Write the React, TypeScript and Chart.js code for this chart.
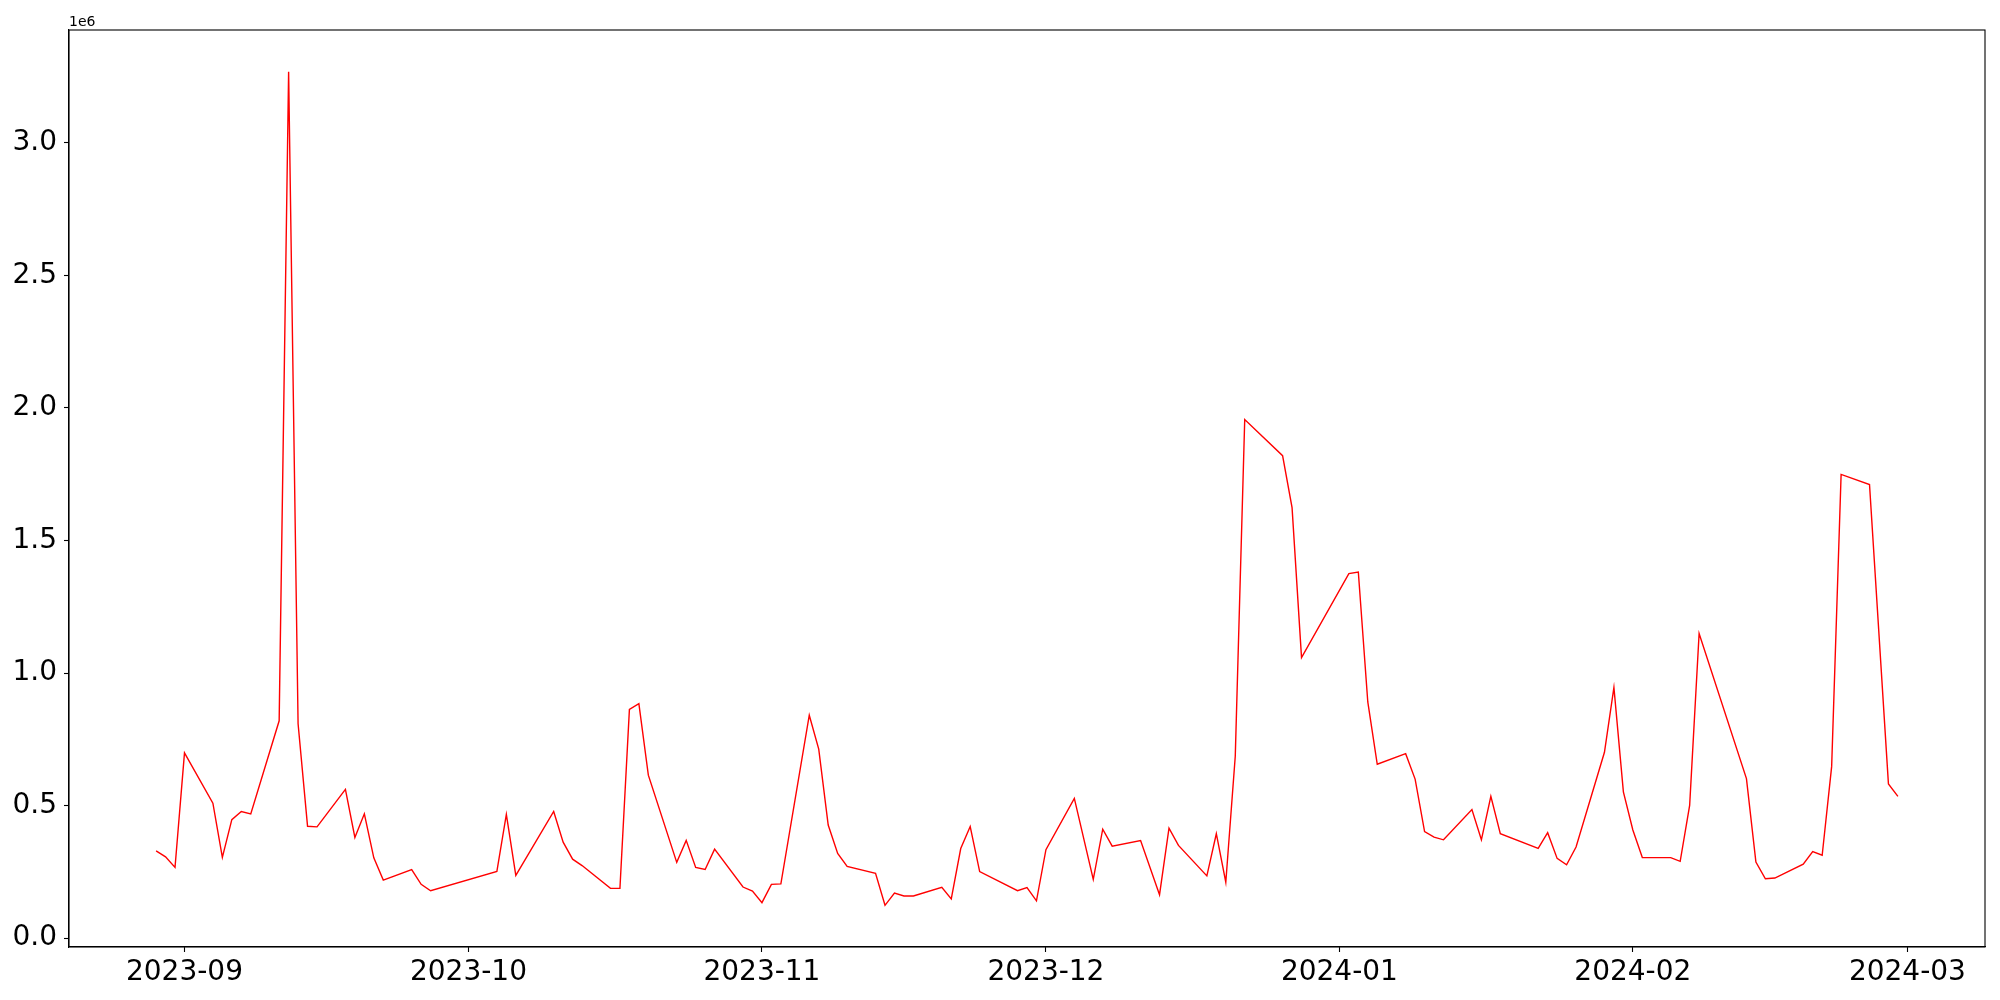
import React, { useEffect, useRef } from "react";
import { Chart, registerables } from "chart.js";

Chart.register(...registerables);

const dates: string[] = [
  "2023-08-29", "2023-08-30", "2023-08-31", "2023-09-01", "2023-09-04", "2023-09-05", "2023-09-06", "2023-09-07", "2023-09-08",
  "2023-09-11", "2023-09-12", "2023-09-13", "2023-09-14", "2023-09-15", "2023-09-18", "2023-09-19", "2023-09-20", "2023-09-21",
  "2023-09-22", "2023-09-25", "2023-09-26", "2023-09-27",
  "2023-10-04", "2023-10-05", "2023-10-06", "2023-10-10", "2023-10-11", "2023-10-12", "2023-10-13", "2023-10-16", "2023-10-17",
  "2023-10-18", "2023-10-19", "2023-10-20", "2023-10-23", "2023-10-24", "2023-10-25", "2023-10-26", "2023-10-27", "2023-10-30",
  "2023-10-31",
  "2023-11-01", "2023-11-02", "2023-11-03", "2023-11-06", "2023-11-07", "2023-11-08", "2023-11-09", "2023-11-10", "2023-11-13",
  "2023-11-14", "2023-11-15", "2023-11-16", "2023-11-17", "2023-11-20", "2023-11-21", "2023-11-22", "2023-11-23", "2023-11-24",
  "2023-11-28", "2023-11-29", "2023-11-30",
  "2023-12-01", "2023-12-04", "2023-12-06", "2023-12-07", "2023-12-08", "2023-12-11", "2023-12-13", "2023-12-14", "2023-12-15",
  "2023-12-18", "2023-12-19", "2023-12-20", "2023-12-21", "2023-12-22", "2023-12-26", "2023-12-27", "2023-12-28",
  "2024-01-02", "2024-01-03", "2024-01-04", "2024-01-05", "2024-01-08", "2024-01-09", "2024-01-10", "2024-01-11", "2024-01-12",
  "2024-01-15", "2024-01-16", "2024-01-17", "2024-01-18", "2024-01-22", "2024-01-23", "2024-01-24", "2024-01-25", "2024-01-26",
  "2024-01-29", "2024-01-30", "2024-01-31",
  "2024-02-01", "2024-02-02", "2024-02-05", "2024-02-06", "2024-02-07", "2024-02-08", "2024-02-13", "2024-02-14", "2024-02-15",
  "2024-02-16", "2024-02-19", "2024-02-20", "2024-02-21", "2024-02-22", "2024-02-23", "2024-02-26", "2024-02-28", "2024-02-29",
];

const volumes: number[] = [
  329000, 307000, 267000, 699000, 509000, 305000, 447000, 478000, 469000,
  820000, 3268000, 809000, 422000, 420000, 561000, 380000, 469000, 303000,
  219000, 259000, 203000, 179000,
  252000, 467000, 237000, 478000, 362000, 298000, 274000, 188000, 188000,
  863000, 885000, 615000, 286000, 369000, 267000, 259000, 336000, 193000,
  178000,
  134000, 203000, 205000, 841000, 713000, 427000, 320000, 271000, 245000,
  124000, 170000, 159000, 159000, 192000, 148000, 338000, 421000, 251000,
  179000, 191000, 141000,
  334000, 527000, 222000, 411000, 347000, 368000, 164000, 415000, 350000,
  235000, 394000, 211000, 686000, 1956000, 1820000, 1624000, 1058000,
  1375000, 1381000, 891000, 656000, 696000, 600000, 402000, 381000, 371000,
  485000, 371000, 535000, 394000, 339000, 398000, 301000, 277000, 344000,
  701000, 946000, 552000,
  408000, 304000, 304000, 290000, 501000, 1149000, 602000, 287000, 224000,
  227000, 279000, 327000, 313000, 647000, 1749000, 1711000, 582000, 535000,
];

const monthTickDates: string[] = ["2023-09-01", "2023-10-01", "2023-11-01", "2023-12-01", "2024-01-01", "2024-02-01", "2024-03-01"];
const monthTickLabels: string[] = ["2023-09", "2023-10", "2023-11", "2023-12", "2024-01", "2024-02", "2024-03"];
const yTickValues: number[] = [0, 500000, 1000000, 1500000, 2000000, 2500000, 3000000];

const toDay = (s: string): number => {
  const [y, m, d] = s.split("-").map(Number);
  return Date.UTC(y, m - 1, d) / 86400000;
};

export default function App() {
  const canvasRef = useRef<HTMLCanvasElement | null>(null);

  useEffect(() => {
    const canvas = canvasRef.current;
    if (!canvas) return;
    const xs = dates.map(toDay);
    const points = xs.map((x, i) => ({ x, y: volumes[i] }));
    const xMinD = Math.min(...xs);
    const xMaxD = Math.max(...xs);
    const xMargin = (xMaxD - xMinD) * 0.05;
    const yMinD = Math.min(...volumes);
    const yMaxD = Math.max(...volumes);
    const yMargin = (yMaxD - yMinD) * 0.05;
    const monthTicks = monthTickDates.map(toDay);

    const framePlugin = {
      id: "frame",
      afterDraw(chart: any) {
        const { ctx, chartArea } = chart;
        ctx.save();
        ctx.strokeStyle = "#000";
        ctx.lineWidth = 1.1;
        ctx.strokeRect(chartArea.left, chartArea.top, chartArea.right - chartArea.left, chartArea.bottom - chartArea.top);
        ctx.fillStyle = "#000";
        ctx.font = "14px 'DejaVu Sans'";
        ctx.textAlign = "left";
        ctx.textBaseline = "alphabetic";
        ctx.fillText("1e6", chartArea.left, 26);
        ctx.restore();
      },
    };

    const chart = new Chart(canvas, {
      type: "line",
      data: {
        datasets: [
          {
            data: points,
            borderColor: "#ff0000",
            borderWidth: 1.4,
            pointRadius: 0,
            tension: 0,
            fill: false,
          },
        ],
      },
      options: {
        animation: false,
        responsive: false,
        devicePixelRatio: 1,
        layout: { padding: { top: 30, right: 15, left: 0, bottom: 0 } },
        plugins: { legend: { display: false }, tooltip: { enabled: false } },
        scales: {
          x: {
            type: "linear",
            min: xMinD - xMargin,
            max: xMaxD + xMargin,
            afterBuildTicks: (scale: any) => {
              scale.ticks = monthTicks.map((v) => ({ value: v }));
            },
            afterFit: (scale: any) => {
              scale.height = 53;
            },
            ticks: {
              autoSkip: false,
              maxRotation: 0,
              padding: 4,
              color: "#000",
              font: { family: "'DejaVu Sans'", size: 28 },
              callback: (v: any) => {
                const i = monthTicks.indexOf(Number(v));
                return i >= 0 ? monthTickLabels[i] : "";
              },
            },
            grid: { drawOnChartArea: false, drawTicks: true, tickLength: 5, tickColor: "#000", tickWidth: 1.1 },
            border: { display: true, color: "#000", width: 1.1 },
          },
          y: {
            type: "linear",
            min: yMinD - yMargin,
            max: yMaxD + yMargin,
            afterBuildTicks: (scale: any) => {
              scale.ticks = yTickValues.map((v) => ({ value: v }));
            },
            afterFit: (scale: any) => {
              scale.width = 69;
            },
            ticks: {
              autoSkip: false,
              padding: 7,
              color: "#000",
              font: { family: "'DejaVu Sans'", size: 28 },
              callback: (v: any) => (Number(v) / 1e6).toFixed(1),
            },
            grid: { drawOnChartArea: false, drawTicks: true, tickLength: 5, tickColor: "#000", tickWidth: 1.1 },
            border: { display: true, color: "#000", width: 1.1 },
          },
        },
      },
      plugins: [framePlugin],
    } as any);

    return () => {
      chart.destroy();
    };
  }, []);

  return (
    <div style={{ position: "absolute", left: 0, top: 0, width: 2000, height: 1000, background: "#fff" }}>
      <canvas ref={canvasRef} width={2000} height={1000} style={{ display: "block", width: 2000, height: 1000 }} />
    </div>
  );
}
